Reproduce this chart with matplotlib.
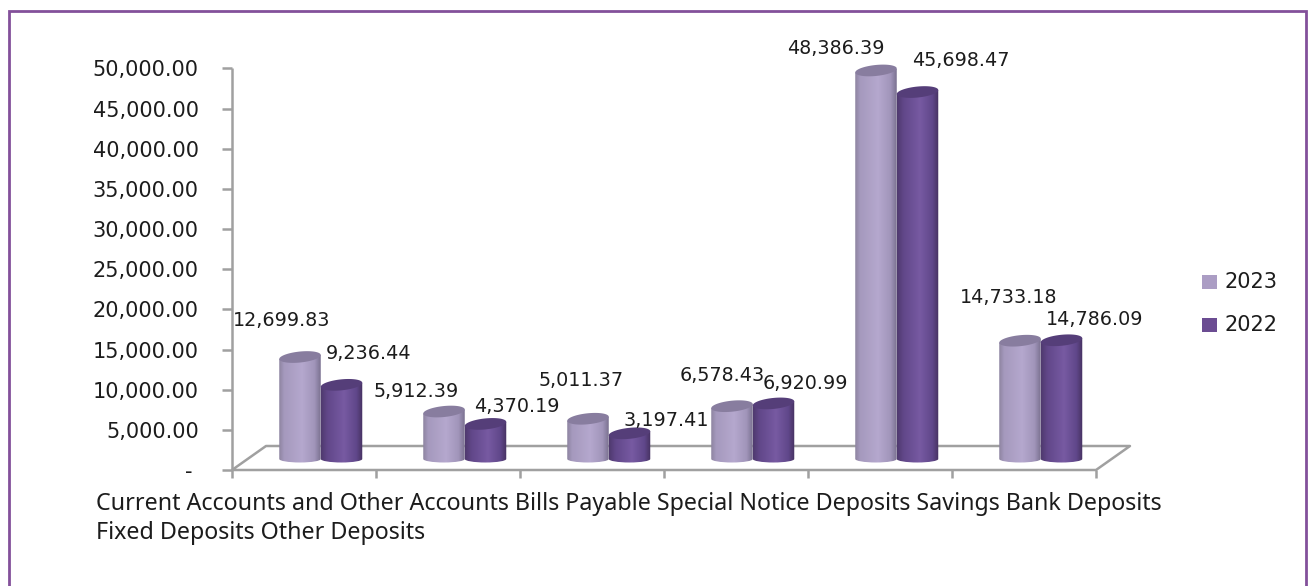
import matplotlib
matplotlib.use('Agg')
import matplotlib.pyplot as plt
import numpy as np
from matplotlib.patches import PathPatch, Polygon, Rectangle
from matplotlib.path import Path
from matplotlib.colors import LinearSegmentedColormap

categories = ['Current Accounts and Other Accounts', 'Bills Payable', 'Special Notice Deposits',
              'Savings Bank Deposits', 'Fixed Deposits', 'Other Deposits']
values_2023 = [12699.83, 5912.39, 5011.37, 6578.43, 48386.39, 14733.18]
values_2022 = [9236.44, 4370.19, 3197.41, 6920.99, 45698.47, 14786.09]
y_ticks = [0, 5000, 10000, 15000, 20000, 25000, 30000, 35000, 40000, 45000, 50000]
y_labels = ['- ', '5,000.00', '10,000.00', '15,000.00', '20,000.00', '25,000.00',
            '30,000.00', '35,000.00', '40,000.00', '45,000.00', '50,000.00']
legend_years = ['2023', '2022']

W, H = 1311, 586
TEXT = '#1c1c1c'
GREY = '#a0a0a0'
LIGHT = '#ab9dc4'
DARK = '#6b4c92'
NUM_FONT = 'DejaVu Sans'
CAT_FONT = 'Noto Sans'

# pixel box of the value axis and category axis
X0, X1, Y0, Y1 = 232, 1096, 470, 68.5
DEPTH_X, DEPTH_Y = 34, 24    # floor depth in pixels
BASE_Y = 459                 # pixel row where the cylinders stand

fig = plt.figure(figsize=(W / 100, H / 100), dpi=100)
bg = fig.add_axes([0, 0, 1, 1])
bg.set_xlim(0, W)
bg.set_ylim(H, 0)
bg.axis('off')
# the frame has no bottom edge inside the page
bg.plot([8.5, 8.5, 1306, 1306], [H, 11, 11, H], color='#83509a', lw=2, solid_joinstyle='miter')

ax = fig.add_axes([X0 / W, 1 - Y0 / H, (X1 - X0) / W, (Y0 - Y1) / H])
ax.patch.set_alpha(0)
for s in ax.spines.values():
    s.set_visible(False)

n = len(categories)
px_x = n / (X1 - X0)   # data units per pixel
px_y = 50000 / (Y0 - Y1)

cmap_light = LinearSegmentedColormap.from_list(
    'light', [(0, '#8d84a0'), (0.12, '#a599bd'), (0.55, '#b5a8ce'), (0.85, '#a195ba'), (1, '#7a7190')])
cmap_dark = LinearSegmentedColormap.from_list(
    'dark', [(0, '#4f3a6e'), (0.15, '#614789'), (0.55, '#775aa2'), (0.85, '#60478a'), (1, '#45315f')])
grad = np.linspace(0, 1, 128).reshape(1, -1)


def cylinder(xc, value, width, cmap, top_color):
    # body with a shallow rounded bottom, shaded left to right, and a slightly tilted cap
    base = (Y0 - BASE_Y) * px_y
    rx = width / 2
    ry_top, ry_bot, tilt = 5.5 * px_y, 3.5 * px_y, 2 * px_y
    top = base + value
    k = 0.5523
    verts = [(xc - rx, top - tilt), (xc - rx, base),
             (xc - rx, base - k * ry_bot), (xc - k * rx, base - ry_bot), (xc, base - ry_bot),
             (xc + k * rx, base - ry_bot), (xc + rx, base - k * ry_bot), (xc + rx, base),
             (xc + rx, top + tilt), (xc - rx, top - tilt)]
    codes = [Path.MOVETO, Path.LINETO, Path.CURVE4, Path.CURVE4, Path.CURVE4,
             Path.CURVE4, Path.CURVE4, Path.CURVE4, Path.LINETO, Path.CLOSEPOLY]
    body = PathPatch(Path(verts, codes), fc='none', ec='none', clip_on=False)
    ax.add_patch(body)
    im = ax.imshow(grad, extent=[xc - rx, xc + rx, base - ry_bot, top + ry_top + tilt], aspect='auto',
                   cmap=cmap, zorder=3, interpolation='bilinear')
    im.set_clip_path(body)
    t = np.linspace(0, 2 * np.pi, 80)
    cap = np.column_stack([xc + rx * np.cos(t), top + ry_top * np.sin(t) + tilt * np.cos(t)])
    ax.add_patch(Polygon(cap, closed=True, fc=top_color, ec='none', zorder=3.1, clip_on=False))


# floor and axes
line_kw = dict(color=GREY, lw=1.8, solid_capstyle='butt', clip_on=False)
dx, dy = DEPTH_X * px_x, DEPTH_Y * px_y
ax.plot([0, dx, n + dx, n, 0], [0, dy, dy, 0, 0], zorder=1, **line_kw)
ax.plot([0, 0], [0, 50000], zorder=1, **line_kw)

ax.set_xticks(range(n + 1))
ax.set_xticklabels([])
ax.set_yticks(y_ticks)
ax.set_yticklabels(y_labels, fontsize=15, color=TEXT, family=NUM_FONT)
ax.tick_params(axis='y', length=7, width=1.8, color=GREY, pad=17)
ax.tick_params(axis='x', length=6, width=1.8, color=GREY)

bar_w = 41.5 * px_x
first_bar = 68 * px_x
# label offsets from the top of each bar, in pixels
lab_off_2023 = [(-18, 37), (-28, 20), (-7, 38), (-10, 31), (-40, 22), (-11, 43)]
lab_off_2022 = [(27, 31), (31, 17), (37, 13), (32, 20), (43, 32), (33, 21)]
for i in range(n):
    xc = i + first_bar
    cylinder(xc, values_2023[i], bar_w, cmap_light, '#887d9f')
    cylinder(xc + bar_w, values_2022[i], bar_w, cmap_dark, '#553e79')
    for val, x, off in [(values_2023[i], xc, lab_off_2023[i]), (values_2022[i], xc + bar_w, lab_off_2022[i])]:
        ax.annotate(f'{val:,.2f}', (x, (Y0 - BASE_Y) * px_y + val), xytext=off, textcoords='offset pixels',
                    ha='center', va='center', fontsize=13.8, color=TEXT, zorder=4, family=NUM_FONT)

ax.set_xlim(0, n)
ax.set_ylim(0, 50000)

# category labels wrap like a paragraph under the axis
bg.text(96, 504, ' '.join(categories[:4]), fontsize=16.75, color=TEXT, va='center', ha='left', family=CAT_FONT)
bg.text(96, 533, ' '.join(categories[4:]), fontsize=16.75, color=TEXT, va='center', ha='left', family=CAT_FONT)

# legend
for year, color, y in zip(legend_years, [LIGHT, DARK], [281.5, 325]):
    bg.add_patch(Rectangle((1202, y - 7), 15, 14, fc=color, ec='none'))
    bg.text(1225, y, year, fontsize=15, color=TEXT, va='center', ha='left', family=NUM_FONT)

plt.savefig('out.png', dpi=100)
